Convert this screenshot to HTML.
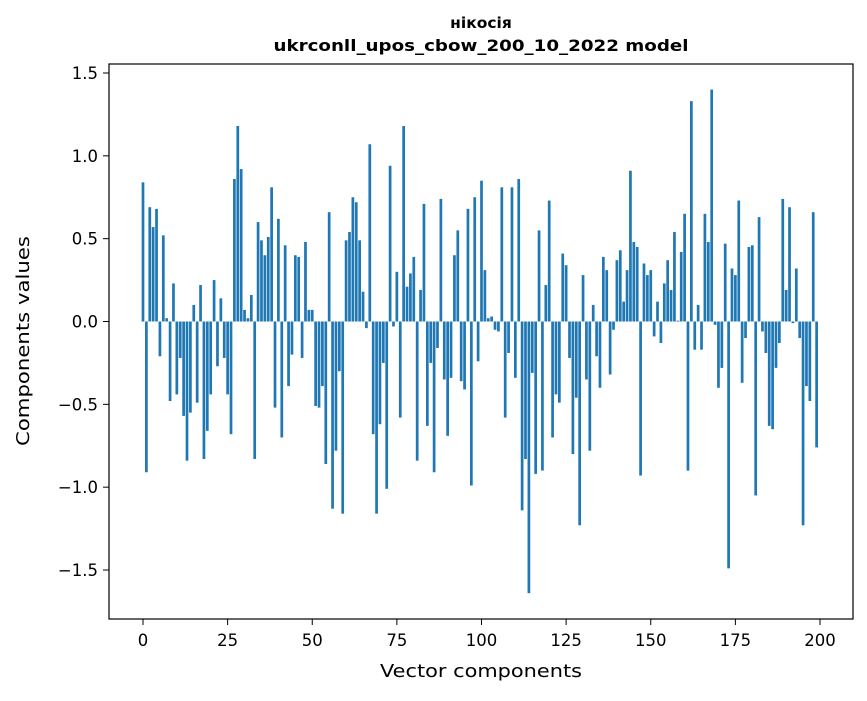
<!DOCTYPE html>
<html><head><meta charset="utf-8"><style>
body{margin:0;background:#fff;}
svg text{font-family:"DejaVu Sans","Liberation Sans",sans-serif;fill:#000;}
</style></head><body>
<svg id="chart" width="867" height="696" xmlns="http://www.w3.org/2000/svg">
<rect width="867" height="696" fill="#fff"/>
<text x="481" y="28" font-size="15.5" font-weight="bold" text-anchor="middle">нікосія</text>
<text x="481" y="51" font-size="16" font-weight="bold" text-anchor="middle" textLength="415" lengthAdjust="spacingAndGlyphs">ukrconll_upos_cbow_200_10_2022 model</text>
<g id="bars"></g>
<g id="xticks"></g>
<g id="yticks"></g>
<rect x="109" y="64" width="744" height="555" fill="none" stroke="#000" stroke-width="1.2"/>
<text x="481" y="677" font-size="18" text-anchor="middle" textLength="202" lengthAdjust="spacingAndGlyphs">Vector components</text>
<text transform="translate(29,341) rotate(-90)" font-size="18" text-anchor="middle" textLength="210" lengthAdjust="spacingAndGlyphs">Components values</text>
</svg>
<script>
const values=[0.84,-0.91,0.69,0.57,0.68,-0.21,0.52,0.02,-0.48,0.23,
-0.44,-0.22,-0.57,-0.84,-0.55,0.10,-0.49,0.22,-0.83,-0.66,
-0.44,0.25,-0.27,0.14,-0.22,-0.44,-0.68,0.86,1.18,0.92,
0.07,0.02,0.16,-0.83,0.60,0.49,0.40,0.51,0.81,-0.52,
0.62,-0.70,0.46,-0.39,-0.20,0.40,0.39,-0.22,0.48,0.07,
0.07,-0.51,-0.52,-0.39,-0.86,0.66,-1.13,-0.78,-0.30,-1.16,
0.49,0.54,0.75,0.72,0.49,0.18,-0.04,1.07,-0.68,-1.16,
-0.62,-0.25,-1.01,0.94,-0.03,0.30,-0.58,1.18,0.21,0.29,
0.39,-0.84,0.19,0.71,-0.63,-0.25,-0.91,-0.16,0.74,-0.35,
-0.69,-0.34,0.40,0.55,-0.36,-0.41,0.68,-0.99,0.75,-0.24,
0.85,0.31,0.02,0.03,-0.05,-0.06,0.81,-0.58,-0.19,0.81,
-0.34,0.86,-1.14,-0.83,-1.64,-0.31,-0.92,0.55,-0.90,0.22,
0.73,-0.70,-0.44,-0.49,0.41,0.34,-0.22,-0.80,-0.46,-1.23,
0.28,-0.35,-0.78,0.10,-0.21,-0.40,0.39,0.31,-0.32,-0.05,
0.37,0.43,0.12,0.31,0.91,0.48,0.45,-0.93,0.35,0.28,
0.31,-0.09,0.12,-0.13,0.23,0.37,0.19,0.54,0.005,0.42,
0.65,-0.90,1.33,-0.17,0.10,-0.17,0.65,0.48,1.40,-0.02,
-0.40,-0.28,0.47,-1.49,0.32,0.28,0.73,-0.37,-0.10,0.45,
0.46,-1.05,0.63,-0.06,-0.19,-0.63,-0.65,-0.28,-0.13,0.74,
0.19,0.69,-0.01,0.32,-0.10,-1.23,-0.39,-0.48,0.66,-0.76];
const xTickVals=[0,25,50,75,100,125,150,175,200];
const yTickVals=[1.5,1.0,0.5,0.0,-0.5,-1.0,-1.5];
const yTickLabels=["1.5","1.0","0.5","0.0","\u22120.5","\u22121.0","\u22121.5"];
const NS="http://www.w3.org/2000/svg";
function xs(i){return 143+i*(820-143)/200;}
function ys(v){return 321.5-v*(570-73)/3;}
const bw=0.8*(820-143)/200;
const bars=document.getElementById('bars');
values.forEach((v,i)=>{
 const r=document.createElementNS(NS,'rect');
 
 
 const y0=ys(0),y1=ys(v);
 r.setAttribute('x',xs(i)-bw/2);r.setAttribute('width',bw);
 r.setAttribute('y',Math.min(y0,y1));r.setAttribute('height',Math.max(Math.abs(y1-y0),0.5));
 r.setAttribute('fill','#1f77b4');bars.appendChild(r);
});
const xg=document.getElementById('xticks');
xTickVals.forEach(t=>{
 const l=document.createElementNS(NS,'line');
 
 
 l.setAttribute('x1',xs(t));l.setAttribute('x2',xs(t));l.setAttribute('y1',619);l.setAttribute('y2',625);l.setAttribute('stroke','#000');xg.appendChild(l);
 const tx=document.createElementNS(NS,'text');
 
 
 tx.setAttribute('x',xs(t));tx.setAttribute('y',646);tx.setAttribute('font-size','16.5');tx.setAttribute('text-anchor','middle');tx.textContent=t;xg.appendChild(tx);
});
const yg=document.getElementById('yticks');
yTickVals.forEach((t,k)=>{
 const l=document.createElementNS(NS,'line');
 
 
 l.setAttribute('x1',103);l.setAttribute('x2',109);l.setAttribute('y1',ys(t));l.setAttribute('y2',ys(t));l.setAttribute('stroke','#000');yg.appendChild(l);
 const tx=document.createElementNS(NS,'text');
 
 
 tx.setAttribute('x',98);tx.setAttribute('y',ys(t)+6);tx.setAttribute('font-size','16.5');tx.setAttribute('text-anchor','end');tx.textContent=yTickLabels[k];yg.appendChild(tx);
});
</script>
</body></html>
